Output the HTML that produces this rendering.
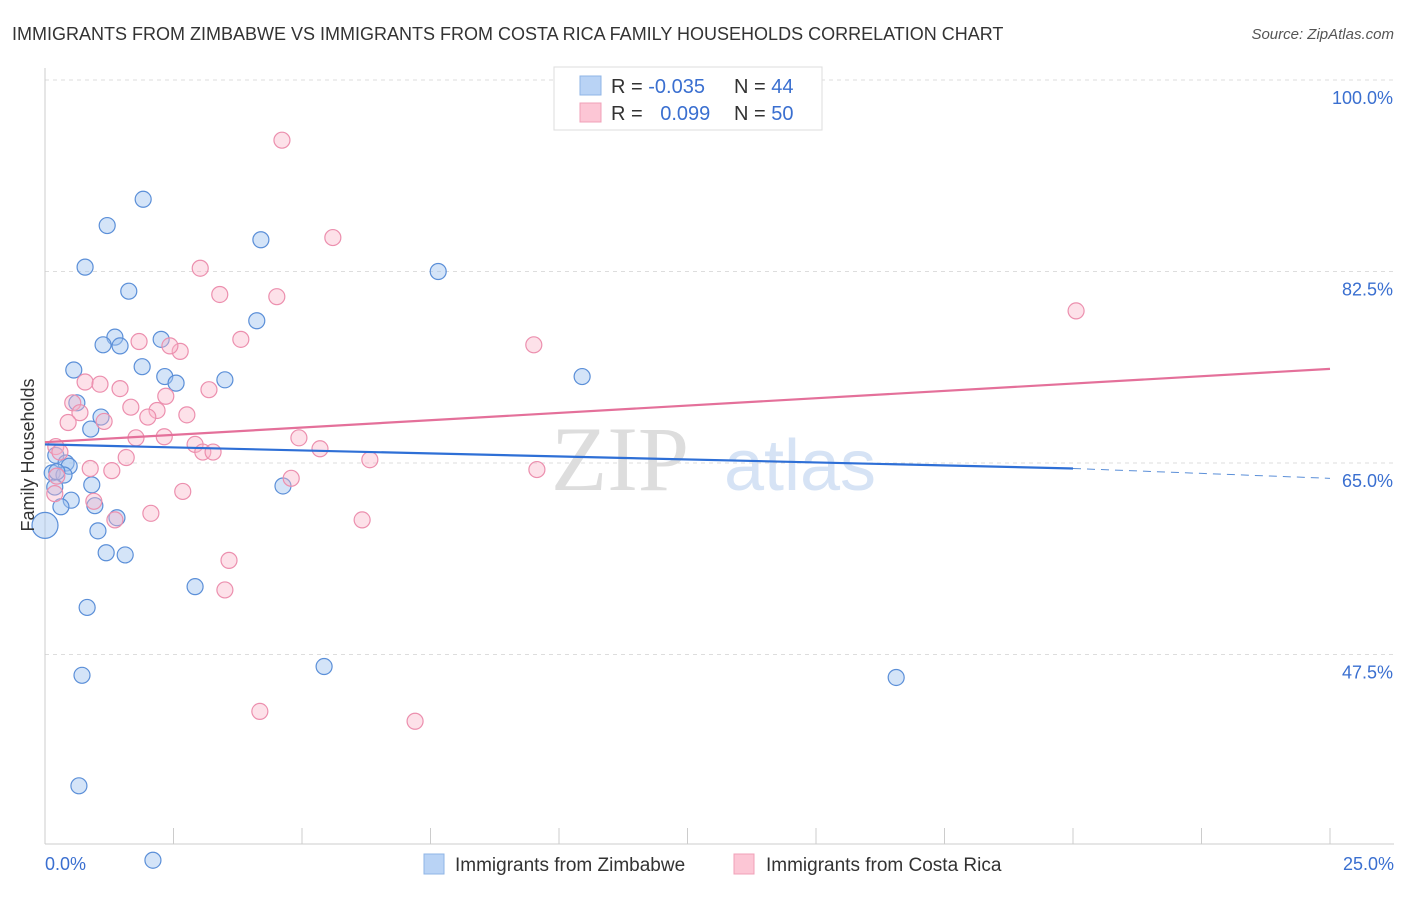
<!DOCTYPE html>
<html><head><meta charset="utf-8">
<style>
body{margin:0;background:#fff;font-family:"Liberation Sans",sans-serif;}
</style></head>
<body>
<svg id="c" width="1406" height="892" xmlns="http://www.w3.org/2000/svg">
<text x="12" y="40" font-size="18" fill="#333">IMMIGRANTS FROM ZIMBABWE VS IMMIGRANTS FROM COSTA RICA FAMILY HOUSEHOLDS CORRELATION CHART</text>
<text x="1394" y="39" font-size="15" fill="#555" text-anchor="end" font-style="italic">Source: ZipAtlas.com</text>
<text x="620" y="490" font-size="92" fill="#ddd" font-family="Liberation Serif,serif" text-anchor="middle">ZIP</text>
<text x="800" y="490" font-size="72" fill="#d6e3f5" text-anchor="middle">atlas</text>
<g id="grid"></g><g id="pts"></g><g id="lines"></g>
<text x="34" y="455" font-size="18" fill="#333" transform="rotate(-90 34 455)" text-anchor="middle">Family Households</text>
<g>
<rect x="554" y="67" width="268" height="63" fill="#fff" stroke="#ddd"/>
<rect x="580" y="76" width="21" height="19" fill="#b9d3f5" stroke="#8fb4e6"/>
<rect x="580" y="103" width="21" height="19" fill="#fcc6d5" stroke="#f0a0b8"/>
<text x="611" y="93" font-size="20" fill="#333">R = <tspan fill="#3a6fd0">-0.035</tspan></text>
<text x="734" y="93" font-size="20" fill="#333">N = <tspan fill="#3a6fd0">44</tspan></text>
<text x="611" y="120" font-size="20" fill="#333">R = <tspan fill="#3a6fd0" dx="12">0.099</tspan></text>
<text x="734" y="120" font-size="20" fill="#333">N = <tspan fill="#3a6fd0">50</tspan></text>
</g>
<g>
<rect x="424" y="854" width="20" height="20" fill="#b9d3f5" stroke="#8fb4e6"/>
<text x="455" y="871" font-size="19" fill="#333">Immigrants from Zimbabwe</text>
<rect x="734" y="854" width="20" height="20" fill="#fcc6d5" stroke="#f0a0b8"/>
<text x="766" y="871" font-size="19" fill="#333">Immigrants from Costa Rica</text>
</g>
<text x="45" y="870" font-size="18" fill="#3a6fd0">0.0%</text>
<text x="1394" y="870" font-size="18" fill="#3a6fd0" text-anchor="end">25.0%</text>
</svg>
<script>
const yTicks=[100,82.5,65,47.5];
const yTickLabels=["100.0%","82.5%","65.0%","47.5%"];
const zimX=[1.91,1.21,4.2,0.78,7.65,1.63,4.12,1.36,2.26,1.13,1.46,1.89,0.56,2.33,2.55,3.5,10.45,0.62,1.09,0.89,0.21,0.41,0.47,0.14,0.37,0.91,4.63,0.19,0.51,0.31,0.97,1.4,1.03,0.0,1.19,1.56,2.92,0.82,5.43,0.72,16.56,0.66,2.1,0.23];
const zimY=[89.1,86.7,85.4,82.9,82.5,80.7,78.0,76.5,76.3,75.8,75.7,73.8,73.5,72.9,72.3,72.6,72.9,70.5,69.2,68.1,65.7,65.0,64.7,64.1,63.9,63.0,62.9,62.8,61.6,61.0,61.1,60.0,58.8,59.3,56.8,56.6,53.7,51.8,46.4,45.6,45.4,35.5,28.7,64.2];
const crX=[4.61,5.6,3.02,3.4,4.51,20.06,2.63,1.83,3.81,2.43,9.51,0.78,1.07,1.46,3.19,2.35,0.54,1.67,2.18,0.68,2.0,2.76,1.15,0.45,1.77,2.32,4.94,2.92,0.21,0.29,3.07,3.27,5.35,1.58,6.32,0.88,1.3,9.57,4.79,0.19,2.68,0.95,2.06,1.36,6.17,3.58,3.5,4.18,7.2,0.23];
const crY=[94.5,85.6,82.8,80.4,80.2,78.9,75.2,76.1,76.3,75.7,75.8,72.4,72.2,71.8,71.7,71.1,70.5,70.1,69.8,69.6,69.2,69.4,68.8,68.7,67.3,67.4,67.3,66.7,66.5,66.0,66.0,66.0,66.3,65.5,65.3,64.5,64.3,64.4,63.6,62.2,62.4,61.5,60.4,59.8,59.8,56.1,53.4,42.3,41.4,63.8];
const trendBlue=[66.7,64.5,63.6];
const trendPink=[66.9,73.6];
const ns="http://www.w3.org/2000/svg";
const X=v=>45+v/25*1285, Y=v=>80+(100-v)*(191.5/17.5);
function mk(t,a,p){const e=document.createElementNS(ns,t);for(const k in a)e.setAttribute(k,a[k]);p.appendChild(e);return e;}
const g=document.getElementById('grid');
yTicks.forEach((t,i)=>{
 const l=mk('line',{x1:45,x2:1394,y1:Y(t),y2:Y(t),stroke:'#ddd','stroke-dasharray':'4,4'},g);
 
 
 const tx=mk('text',{x:1393,y:Y(t)+24,'font-size':18,fill:'#3a6fd0','text-anchor':'end'},g);
 tx.textContent=yTickLabels[i];
 
 
});
mk('line',{x1:45,x2:45,y1:68,y2:844,stroke:'#ccc'},g);
mk('line',{x1:45,x2:1394,y1:844,y2:844,stroke:'#ccc'},g);
for(let i=0;i<=10;i++){const t=mk('line',{x1:X(i*2.5),x2:X(i*2.5),y1:828,y2:844,stroke:'#ccc'},g);
 
 }
const p=document.getElementById('pts');
zimX.forEach((x,i)=>{const c=mk('circle',{cx:X(x),cy:Y(zimY[i]),r:x===0?13:8,fill:'rgba(160,196,240,0.45)',stroke:'#5b8fd8','stroke-width':1.2},p);
 
 });
crX.forEach((x,i)=>{const c=mk('circle',{cx:X(x),cy:Y(crY[i]),r:8,fill:'rgba(250,180,200,0.4)',stroke:'#ec8fae','stroke-width':1.2},p);
 
 });
const L=document.getElementById('lines');
let a=mk('line',{x1:X(0),y1:Y(trendBlue[0]),x2:X(20),y2:Y(trendBlue[1]),stroke:'#2e6fd6','stroke-width':2.2},L);


a=mk('line',{x1:X(20),y1:Y(trendBlue[1]),x2:X(25),y2:Y(trendBlue[2]),stroke:'#5b8fd8','stroke-width':1,'stroke-dasharray':'8,6'},L);


a=mk('line',{x1:X(0),y1:Y(trendPink[0]),x2:X(25),y2:Y(trendPink[1]),stroke:'#e4709a','stroke-width':2.2},L);


</script>
</body></html>
